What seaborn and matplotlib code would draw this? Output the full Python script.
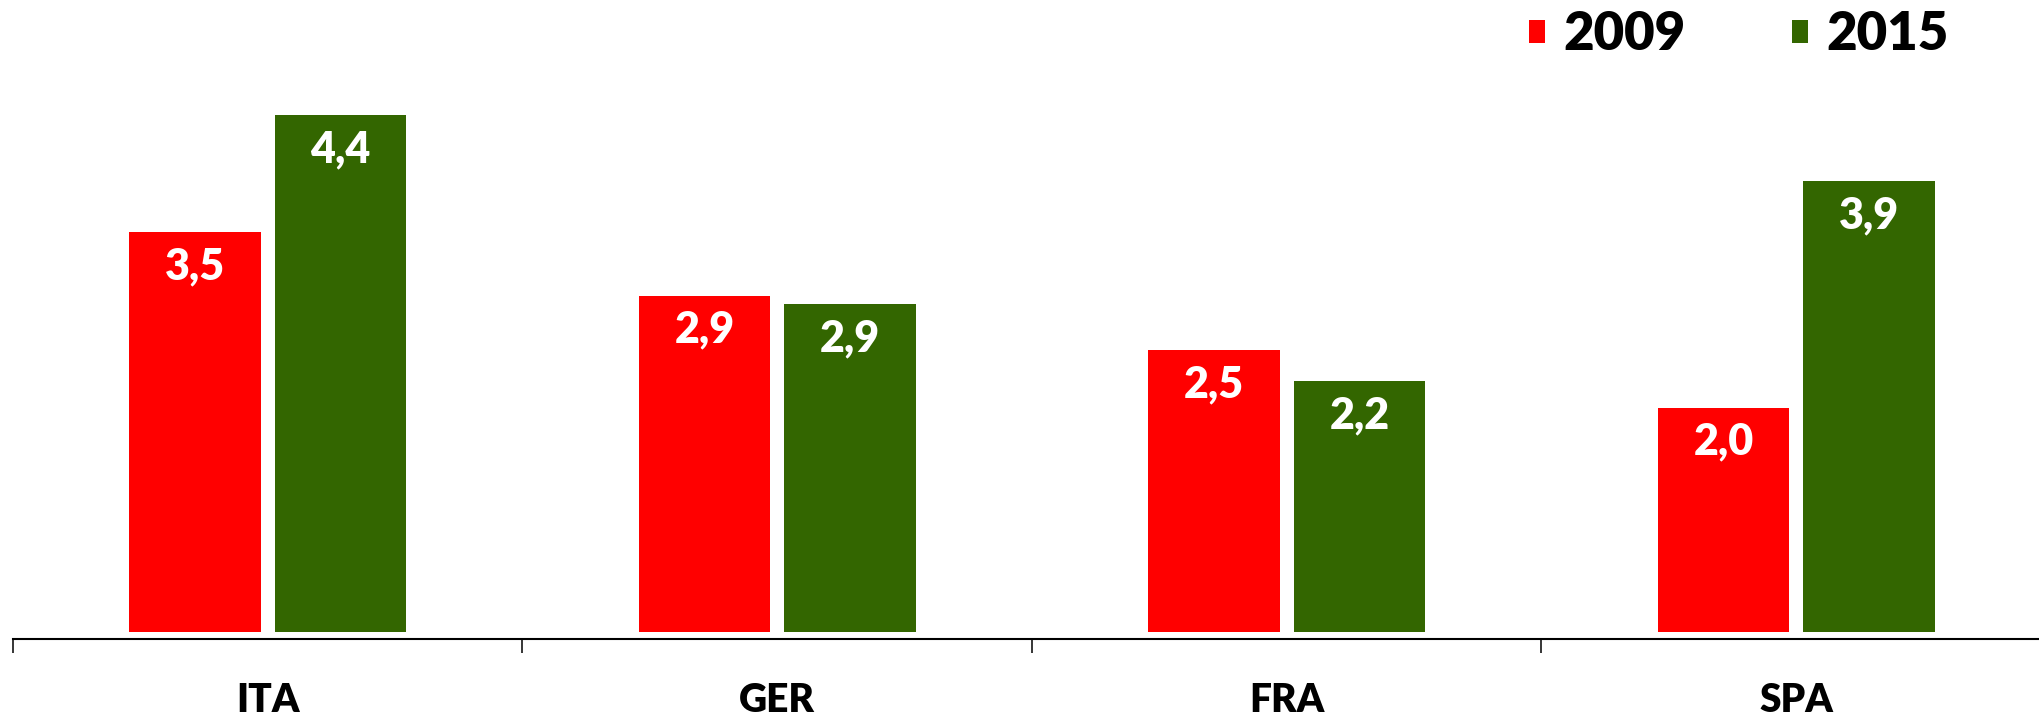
import pandas as pd
import matplotlib
matplotlib.use('Agg')
import matplotlib.pyplot as plt
from matplotlib.ticker import FixedLocator
import seaborn as sns

countries = ['ITA', 'GER', 'FRA', 'SPA']
years = ['2009', '2015']
values_2009 = [3.46, 2.94, 2.49, 2.02]
values_2015 = [4.42, 2.87, 2.24, 3.88]
colors = ['#FF0000', '#336600']


def main():
    sns.set_style('white')
    plt.rcParams['font.family'] = ['Lato', 'DejaVu Sans']
    plt.rcParams['font.weight'] = 'bold'
    plt.rcParams['text.color'] = 'black'

    df = pd.DataFrame({
        'country': countries * 2,
        'year': [years[0]] * 4 + [years[1]] * 4,
        'value': values_2009 + values_2015,
    })

    fig = plt.figure(figsize=(20.4, 7.18), dpi=100)
    ax = fig.add_axes([13 / 2040, 0.1191, 2038 / 2040, 0.7852])

    sns.barplot(data=df, x='country', y='value', hue='year', palette=colors,
                width=0.571, gap=0.097, saturation=1, linewidth=0, ax=ax)

    ax.set_xlim(-0.5, 3.5)
    ax.set_ylim(0.177, 4.8)
    ax.set_xlabel('')
    ax.set_ylabel('')
    ax.set_yticks([])

    # value labels inside the top of each bar
    for cont, vals in zip(ax.containers, [values_2009, values_2015]):
        for rect, v in zip(cont, vals):
            ax.annotate(f"{v:.1f}".replace('.', ','),
                        (rect.get_x() + rect.get_width() / 2, rect.get_height()),
                        xytext=(0, -24.5), textcoords='offset points',
                        ha='center', va='center', color='white',
                        fontsize=31, fontweight='heavy')

    for s in ['left', 'top', 'right']:
        ax.spines[s].set_visible(False)
    ax.spines['bottom'].set_position(('outward', 4.7))
    ax.spines['bottom'].set_color('black')
    ax.spines['bottom'].set_linewidth(1.5)

    ax.xaxis.set_minor_locator(FixedLocator([-0.5, 0.5, 1.5, 2.5]))
    ax.tick_params(axis='x', which='minor', direction='out', length=10,
                   width=1.1, color='black', bottom=True)
    ax.tick_params(axis='x', which='major', length=0, pad=31,
                   labelsize=28, labelcolor='black')
    for lbl in ax.get_xticklabels():
        lbl.set_fontweight('heavy')

    handles, labels = ax.get_legend_handles_labels()
    if ax.get_legend() is not None:
        ax.get_legend().remove()
    leg = fig.legend(handles, labels, loc='center left',
                     bbox_to_anchor=(1529 / 2040, 1 - 35 / 718),
                     bbox_transform=fig.transFigure, ncol=2, frameon=False,
                     prop={'weight': 'heavy', 'size': 38},
                     handlelength=0.31, handleheight=0.31, handletextpad=0.35,
                     columnspacing=2.0, borderpad=0, borderaxespad=0)
    for t in leg.get_texts():
        t.set_color('black')

    fig.savefig('out.png', dpi=100)
    plt.close(fig)


if __name__ == "__main__":
    main()
